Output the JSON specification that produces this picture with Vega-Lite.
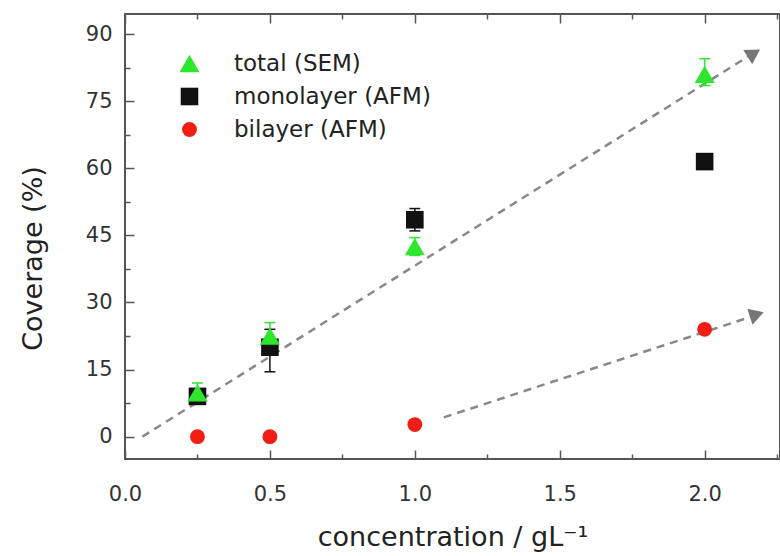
{
  "$schema": "https://vega.github.io/schema/vega-lite/v6.json",
  "width": 655,
  "height": 445,
  "autosize": "none",
  "padding": {"left": 125, "top": 14, "right": 0, "bottom": 97},
  "background": "white",
  "config": {
    "view": {"stroke": "#555", "strokeWidth": 2},
    "font": "DejaVu Sans",
    "axis": {
      "labelFont": "DejaVu Sans",
      "labelFontSize": 21,
      "labelColor": "#333",
      "titleFont": "DejaVu Sans",
      "titleFontSize": 27,
      "titleFontWeight": "normal",
      "titleColor": "#222",
      "tickColor": "#555",
      "tickWidth": 1.5,
      "domain": false,
      "grid": false,
      "labelFlush": false
    },
    "legend": {
      "labelFont": "DejaVu Sans",
      "labelFontSize": 23,
      "labelColor": "#222",
      "labelLimit": 0,
      "rowPadding": 9,
      "labelOffset": 33
    }
  },
  "datasets": {
    "pts": [
      {"series": "monolayer (AFM)", "x": 0.25, "y": 9},
      {"series": "monolayer (AFM)", "x": 0.5, "y": 20},
      {"series": "monolayer (AFM)", "x": 1.0, "y": 48.5},
      {"series": "monolayer (AFM)", "x": 2.0, "y": 61.5},
      {"series": "total (SEM)", "x": 0.25, "y": 9.8},
      {"series": "total (SEM)", "x": 0.5, "y": 22.5},
      {"series": "total (SEM)", "x": 1.0, "y": 42.5},
      {"series": "total (SEM)", "x": 2.0, "y": 81},
      {"series": "bilayer (AFM)", "x": 0.25, "y": 0},
      {"series": "bilayer (AFM)", "x": 0.5, "y": 0},
      {"series": "bilayer (AFM)", "x": 1.0, "y": 2.7},
      {"series": "bilayer (AFM)", "x": 2.0, "y": 24}
    ],
    "errs": [
      {"series": "monolayer (AFM)", "x": 0.25, "lo": 8, "hi": 10},
      {"series": "monolayer (AFM)", "x": 0.5, "lo": 14.5, "hi": 24},
      {"series": "monolayer (AFM)", "x": 1.0, "lo": 46, "hi": 51},
      {"series": "total (SEM)", "x": 0.25, "lo": 8.5, "hi": 12},
      {"series": "total (SEM)", "x": 0.5, "lo": 20, "hi": 25.5},
      {"series": "total (SEM)", "x": 1.0, "lo": 40.5, "hi": 44.5},
      {"series": "total (SEM)", "x": 2.0, "lo": 78.5, "hi": 84.5}
    ],
    "lines": [
      {"line": "a", "x": 0.06, "y": 0},
      {"line": "a", "x": 2.15, "y": 85},
      {"line": "b", "x": 1.1, "y": 4.3},
      {"line": "b", "x": 2.16, "y": 26.8}
    ],
    "arrows": [
      {"line": "a", "x": 2.17, "y": 85.7},
      {"line": "b", "x": 2.18, "y": 27.3}
    ]
  },
  "layer": [
    {
      "data": {"name": "lines"},
      "mark": {"type": "line", "color": "#888", "strokeWidth": 2.5, "strokeDash": [8, 6]},
      "encoding": {
        "x": {"field": "x", "type": "quantitative", "scale": {"domain": [0, 2.26], "nice": false, "zero": false},
          "axis": {"orient": "top", "labels": false, "title": null,
            "values": [0, 0.25, 0.5, 0.75, 1, 1.25, 1.5, 1.75, 2, 2.25],
            "tickSize": {"condition": {"test": "datum.value % 0.5 === 0", "value": -9}, "value": -5}}},
        "y": {"field": "y", "type": "quantitative", "scale": {"domain": [-5, 94.5], "nice": false, "zero": false}, "axis": null},
        "detail": {"field": "line"}
      }
    },
    {
      "data": {"name": "arrows"},
      "transform": [{"filter": "datum.line === 'a'"}],
      "mark": {"type": "point", "shape": "triangle-right", "filled": true, "color": "#777", "opacity": 1, "size": 280, "angle": -32},
      "encoding": {
        "x": {"field": "x", "type": "quantitative", "axis": null},
        "y": {"field": "y", "type": "quantitative", "axis": null}
      }
    },
    {
      "data": {"name": "arrows"},
      "transform": [{"filter": "datum.line === 'b'"}],
      "mark": {"type": "point", "shape": "triangle-right", "filled": true, "color": "#777", "opacity": 1, "size": 280, "angle": -18},
      "encoding": {
        "x": {"field": "x", "type": "quantitative", "axis": null},
        "y": {"field": "y", "type": "quantitative", "axis": null}
      }
    },
    {
      "data": {"name": "errs"},
      "mark": {"type": "rule", "strokeWidth": 1.5},
      "encoding": {
        "x": {"field": "x", "type": "quantitative", "axis": null},
        "y": {"field": "lo", "type": "quantitative", "axis": null},
        "y2": {"field": "hi"},
        "color": {"condition": {"test": "datum.series === 'total (SEM)'", "value": "#2ee62e"}, "value": "#111"}
      }
    },
    {
      "data": {"name": "errs"},
      "mark": {"type": "point", "shape": "M-1,0L1,0", "filled": false, "strokeWidth": 1.5, "size": 120, "opacity": 1},
      "encoding": {
        "x": {"field": "x", "type": "quantitative", "axis": null},
        "y": {"field": "lo", "type": "quantitative", "axis": null},
        "color": {"condition": {"test": "datum.series === 'total (SEM)'", "value": "#2ee62e"}, "value": "#111"}
      }
    },
    {
      "data": {"name": "errs"},
      "mark": {"type": "point", "shape": "M-1,0L1,0", "filled": false, "strokeWidth": 1.5, "size": 120, "opacity": 1},
      "encoding": {
        "x": {"field": "x", "type": "quantitative", "axis": null},
        "y": {"field": "hi", "type": "quantitative", "axis": null},
        "color": {"condition": {"test": "datum.series === 'total (SEM)'", "value": "#2ee62e"}, "value": "#111"}
      }
    },
    {
      "data": {"name": "pts"},
      "mark": {"type": "point", "filled": true, "opacity": 1},
      "encoding": {
        "x": {"field": "x", "type": "quantitative",
          "axis": {"orient": "bottom", "title": "concentration / gL⁻¹", "titlePadding": 20,
            "values": [0, 0.25, 0.5, 0.75, 1, 1.25, 1.5, 1.75, 2, 2.25],
            "labelExpr": "datum.value % 0.5 === 0 ? format(datum.value, '.1f') : ''",
            "labelPadding": 33,
            "tickSize": {"condition": {"test": "datum.value % 0.5 === 0", "value": -9}, "value": -5}}},
        "y": {"field": "y", "type": "quantitative",
          "axis": {"title": "Coverage (%)", "titlePadding": 38, "titleY": 244,
            "values": [0, 7.5, 15, 22.5, 30, 37.5, 45, 52.5, 60, 67.5, 75, 82.5, 90],
            "labelExpr": "datum.value % 15 === 0 ? datum.label : ''",
            "labelPadding": 22,
            "tickSize": {"condition": {"test": "datum.value % 15 === 0", "value": -9}, "value": -5}}},
        "color": {"field": "series", "type": "nominal",
          "scale": {"domain": ["total (SEM)", "monolayer (AFM)", "bilayer (AFM)"], "range": ["#2ee62e", "#111111", "#f01e14"]},
          "legend": {"title": null, "orient": "none", "legendX": 53, "legendY": 38}},
        "shape": {"field": "series", "type": "nominal",
          "scale": {"domain": ["total (SEM)", "monolayer (AFM)", "bilayer (AFM)"], "range": ["triangle-up", "square", "circle"]}},
        "size": {"field": "series", "type": "nominal",
          "scale": {"domain": ["total (SEM)", "monolayer (AFM)", "bilayer (AFM)"], "range": [400, 220, 380]}}
      }
    }
  ],
  "resolve": {"axis": {"x": "independent", "y": "independent"}}
}
